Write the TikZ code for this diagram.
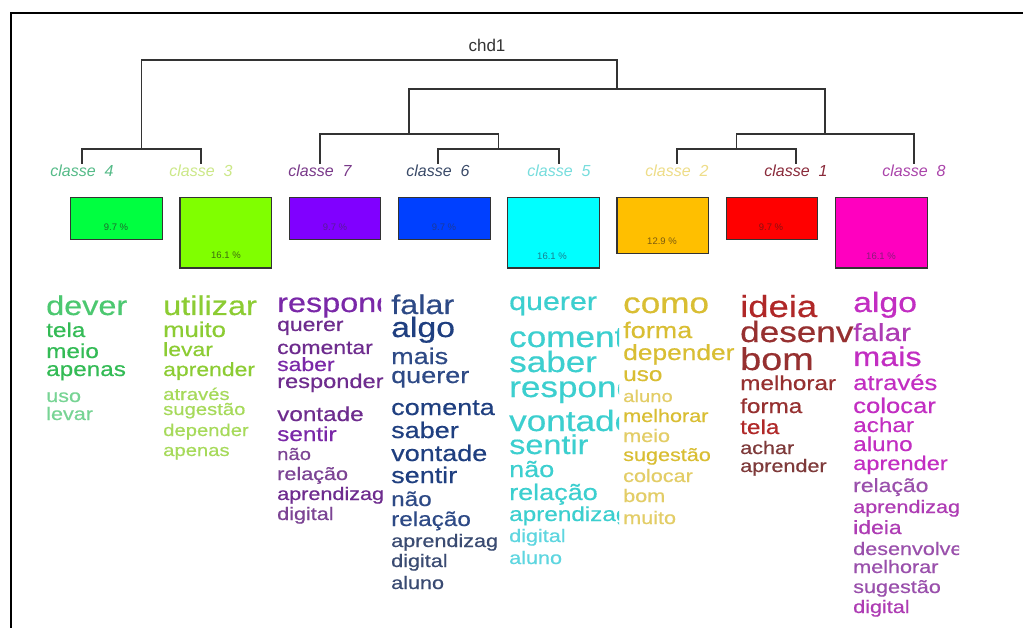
\documentclass[tikz,border=0pt]{standalone}
\usepackage{fontspec}
\setmainfont{Liberation Sans}
\newfontfamily\wf[FakeStretch=1.2,FakeBold=0.5]{Liberation Sans}
\definecolor{dk}{HTML}{333333}
% box colours (rainbow)
\definecolor{r1}{HTML}{FF0000}\definecolor{r2}{HTML}{FFBF00}\definecolor{r3}{HTML}{80FF00}\definecolor{r4}{HTML}{00FF40}
\definecolor{r5}{HTML}{00FFFF}\definecolor{r6}{HTML}{0040FF}\definecolor{r7}{HTML}{8000FF}\definecolor{r8}{HTML}{FF00BF}
% percentage label colours
\definecolor{p1}{HTML}{8A1010}\definecolor{p2}{HTML}{7A5A10}\definecolor{p3}{HTML}{3D6B10}\definecolor{p4}{HTML}{1C6B2E}
\definecolor{p5}{HTML}{1A7F8F}\definecolor{p6}{HTML}{1A3A9A}\definecolor{p7}{HTML}{5A1A9A}\definecolor{p8}{HTML}{8A1A7A}
% class label colours
\definecolor{l1}{HTML}{8A2A3A}\definecolor{l2}{HTML}{EEDD88}\definecolor{l3}{HTML}{CCE888}\definecolor{l4}{HTML}{55BB88}
\definecolor{l5}{HTML}{77DDDD}\definecolor{l6}{HTML}{3A4A68}\definecolor{l7}{HTML}{7A3A8A}\definecolor{l8}{HTML}{AA44AA}
% word colours
\definecolor{c4a}{HTML}{33BB55}\definecolor{c4b}{HTML}{4CC870}\definecolor{c4c}{HTML}{77D494}
\definecolor{c3a}{HTML}{8CCC33}\definecolor{c3b}{HTML}{A6DA5A}
\definecolor{c7a}{HTML}{7A28A8}\definecolor{c7b}{HTML}{6E2C8E}\definecolor{c7c}{HTML}{7C4494}
\definecolor{c6a}{HTML}{1F3F80}\definecolor{c6b}{HTML}{2E4A86}\definecolor{c6c}{HTML}{3A4B72}
\definecolor{c5a}{HTML}{3CCFCF}\definecolor{c5b}{HTML}{5ED6E0}
\definecolor{c2a}{HTML}{D9BE33}\definecolor{c2b}{HTML}{E3CD66}
\definecolor{c1a}{HTML}{B02828}\definecolor{c1b}{HTML}{963030}\definecolor{c1c}{HTML}{7E3A3A}
\definecolor{c8a}{HTML}{C22EC2}\definecolor{c8b}{HTML}{AE3CB4}\definecolor{c8c}{HTML}{9A50AC}
\tikzset{
  dendro/.style={draw=dk, line width=1.3pt},
  clsbox/.style={draw=dk, line width=1.2pt, anchor=north west, minimum width=91.7pt, inner sep=0pt},
  pct/.style={font={\fontsize{9.5}{9.5}\selectfont}, inner sep=0pt},
  clslbl/.style={font={\fontsize{16}{16}\selectfont\itshape}, anchor=base, inner sep=0pt},
  wordsty/.style={anchor=base west, inner sep=0pt, font=\wf}
}
\newcommand\wword[6]{\pgfmathsetmacro\wsz{#3*1.125}\node[wordsty,text=#5] (#6) at (#1,#2) {\fontsize{\wsz}{\wsz}\selectfont #4};}
\begin{document}
\begin{tikzpicture}[x=1pt,y=-1pt]
\useasboundingbox (0,0) rectangle (1023,628);
\fill[white] (0,0) rectangle (1023,628);
\draw[line width=2.7pt, black] (11,630) -- (11,13) -- (1025,13);

% title
\node[font={\fontsize{17}{17}\selectfont}, text=dk, anchor=base, inner sep=0pt] (title) at (487,52) {chd1};

% dendrogram
\coordinate (L4) at (82,164); \coordinate (L3) at (201,164);
\coordinate (L7) at (320,164); \coordinate (L6) at (438,164);
\coordinate (L5) at (559,164); \coordinate (L2) at (677,164);
\coordinate (L1) at (796,164); \coordinate (L8) at (914,164);
\coordinate (A) at (141.5,149); \coordinate (B) at (498.5,149); \coordinate (C) at (736.5,149);
\coordinate (D) at (409,134); \coordinate (E) at (825,134);
\coordinate (F) at (617,89); \coordinate (G) at (380,60);
\draw[dendro] (L4) |- (A) -| (L3);
\draw[dendro] (L6) |- (B) -| (L5);
\draw[dendro] (L2) |- (C) -| (L1);
\draw[dendro] (L7) |- (D) -| (B);
\draw[dendro] (C) |- (E) -| (L8);
\draw[dendro] (D) |- (F) -| (E);
\draw[dendro] (A) |- (G) -| (F);

% class labels (bottom clipped)
\begin{scope}
\clip (0,150) rectangle (1023,176.5);
\node[clslbl,text=l4] (t4) at (82,177) {classe\ \ 4};
\node[clslbl,text=l3] (t3) at (201,177) {classe\ \ 3};
\node[clslbl,text=l7] (t7) at (320,177) {classe\ \ 7};
\node[clslbl,text=l6] (t6) at (438,177) {classe\ \ 6};
\node[clslbl,text=l5] (t5) at (559,177) {classe\ \ 5};
\node[clslbl,text=l2] (t2) at (677,177) {classe\ \ 2};
\node[clslbl,text=l1] (t1) at (796,177) {classe\ \ 1};
\node[clslbl,text=l8] (t8) at (914,177) {classe\ \ 8};
\end{scope}

% boxes
\node[clsbox,fill=r4,minimum height=42pt] (b4) at (70,197) {};
\node[clsbox,fill=r3,minimum height=70.5pt] (b3) at (179.3,197) {};
\node[clsbox,fill=r7,minimum height=42pt] (b7) at (288.5,197) {};
\node[clsbox,fill=r6,minimum height=42pt] (b6) at (397.8,197) {};
\node[clsbox,fill=r5,minimum height=70.5pt] (b5) at (507,197) {};
\node[clsbox,fill=r2,minimum height=56pt] (b2) at (616.3,197) {};
\node[clsbox,fill=r1,minimum height=42pt] (b1) at (725.5,197) {};
\node[clsbox,fill=r8,minimum height=70.5pt] (b8) at (834.8,197) {};
\node[pct,text=p4] (q4) at (116,227) {9.7 \%};
\node[pct,text=p3] (q3) at (226,255.5) {16.1 \%};
\node[pct,text=p7] (q7) at (335,227) {9.7 \%};
\node[pct,text=p6] (q6) at (444,227) {9.7 \%};
\node[pct,text=p5] (q5) at (552,256) {16.1 \%};
\node[pct,text=p2] (q2) at (662,241) {12.9 \%};
\node[pct,text=p1] (q1) at (771,227) {9.7 \%};
\node[pct,text=p8] (q8) at (881,256) {16.1 \%};

% column classe 4
\wword{46}{315}{24}{dever}{c4b}{a1}
\wword{46}{337}{18}{tela}{c4a}{a2}
\wword{46}{358}{18}{meio}{c4a}{a3}
\wword{46}{376}{18}{apenas}{c4a}{a4}
\wword{46}{402}{16}{uso}{c4c}{a5}
\wword{46}{420}{16}{levar}{c4c}{a6}

% column classe 3
\wword{163}{315}{24}{utilizar}{c3a}{b1w}
\wword{163}{337}{19}{muito}{c3a}{b2w}
\wword{163}{356}{17}{levar}{c3a}{b3w}
\wword{163}{376}{17}{aprender}{c3a}{b4w}
\wword{163}{400}{15}{através}{c3b}{b5w}
\wword{163}{415}{15}{sugestão}{c3b}{b6w}
\wword{163}{436}{15}{depender}{c3b}{b7w}
\wword{163}{456}{15}{apenas}{c3b}{b8w}

% column classe 7
\begin{scope}
\clip (270,280) rectangle (381,320);
\wword{277}{312}{24}{responder}{c7a}{c1w}
\end{scope}
\wword{277}{331}{17}{querer}{c7b}{c2w}
\wword{277}{354}{17}{comentar}{c7b}{c3w}
\wword{277}{371}{17}{saber}{c7a}{c4w}
\wword{277}{388}{17.5}{responder}{c7b}{c5w}
\wword{277}{421}{18}{vontade}{c7b}{c6w}
\wword{277}{441}{18}{sentir}{c7a}{c7w}
\wword{277}{460}{15}{não}{c7c}{c8w}
\wword{277}{480}{16}{relação}{c7c}{c9w}
\wword{277}{500}{16}{aprendizag}{c7b}{c10w}
\wword{277}{520}{16}{digital}{c7c}{c11w}

% column classe 6
\wword{391}{314}{24}{falar}{c6b}{d1}
\wword{391}{337}{25}{algo}{c6a}{d2}
\wword{391}{364}{20}{mais}{c6b}{d3}
\wword{391}{383}{20}{querer}{c6b}{d4}
\wword{391}{415}{20}{comenta}{c6a}{d5}
\wword{391}{438}{20}{saber}{c6a}{d6}
\wword{391}{461}{20}{vontade}{c6a}{d7}
\wword{391}{483}{20}{sentir}{c6a}{d8}
\wword{391}{506}{18}{não}{c6b}{d9}
\wword{391}{526}{18}{relação}{c6b}{d10}
\wword{391}{547}{16}{aprendizag}{c6c}{d11}
\wword{391}{567}{16}{digital}{c6c}{d12}
\wword{391}{589}{16}{aluno}{c6c}{d13}

% column classe 5
\begin{scope}
\clip (500,280) rectangle (619,600);
\wword{509}{310}{22.5}{querer}{c5a}{e1}
\wword{509}{347}{26}{comentar}{c5a}{e2}
\wword{509}{372}{26}{saber}{c5a}{e3}
\wword{509}{397}{26}{responder}{c5a}{e4}
\wword{509}{431}{26}{vontade}{c5a}{e5}
\wword{509}{454}{24}{sentir}{c5a}{e6}
\wword{509}{477}{20}{não}{c5a}{e7}
\wword{509}{500}{20}{relação}{c5a}{e8}
\wword{509}{521}{18}{aprendizag}{c5a}{e9}
\wword{509}{542}{16}{digital}{c5b}{e10}
\wword{509}{564}{16}{aluno}{c5b}{e11}
\end{scope}

% column classe 2
\wword{623}{313}{26}{como}{c2a}{f1}
\wword{623}{338}{20}{forma}{c2a}{f2}
\wword{623}{360}{19.5}{depender}{c2a}{f3}
\wword{623}{381}{18}{uso}{c2a}{f4}
\wword{623}{402}{15}{aluno}{c2b}{f5}
\wword{623}{422}{16}{melhorar}{c2a}{f6}
\wword{623}{442}{16}{meio}{c2b}{f7}
\wword{623}{461}{16}{sugestão}{c2a}{f8}
\wword{623}{482}{16}{colocar}{c2b}{f9}
\wword{623}{502}{16}{bom}{c2b}{f10}
\wword{623}{524}{16}{muito}{c2b}{f11}

% column classe 1
\wword{740}{317}{27}{ideia}{c1a}{g1}
\wword{740}{342}{26}{desenv}{c1b}{g2}
\wword{740}{370}{28}{bom}{c1b}{g3}
\wword{740}{390}{18}{melhorar}{c1b}{g4}
\wword{740}{413}{18}{forma}{c1b}{g5}
\wword{740}{434}{18}{tela}{c1a}{g6}
\wword{740}{454}{16}{achar}{c1c}{g7}
\wword{740}{472}{16}{aprender}{c1c}{g8}

% column classe 8
\begin{scope}
\clip (845,280) rectangle (959,628);
\wword{853}{312}{25}{algo}{c8a}{h1}
\wword{853}{341}{22}{falar}{c8b}{h2}
\wword{853}{366}{24}{mais}{c8a}{h3}
\wword{853}{390}{19}{através}{c8a}{h4}
\wword{853}{413}{19}{colocar}{c8a}{h5}
\wword{853}{432}{18}{achar}{c8a}{h6}
\wword{853}{451}{18}{aluno}{c8a}{h7}
\wword{853}{470}{17.5}{aprender}{c8a}{h8}
\wword{853}{492}{17}{relação}{c8c}{h9}
\wword{853}{513}{16}{aprendizag}{c8b}{h10}
\wword{853}{534}{17}{ideia}{c8b}{h11}
\wword{853}{555}{16}{desenvolver}{c8c}{h12}
\wword{853}{573}{16}{melhorar}{c8c}{h13}
\wword{853}{593}{16}{sugestão}{c8c}{h14}
\wword{853}{613}{16}{digital}{c8b}{h15}
\end{scope}
\end{tikzpicture}
\end{document}
